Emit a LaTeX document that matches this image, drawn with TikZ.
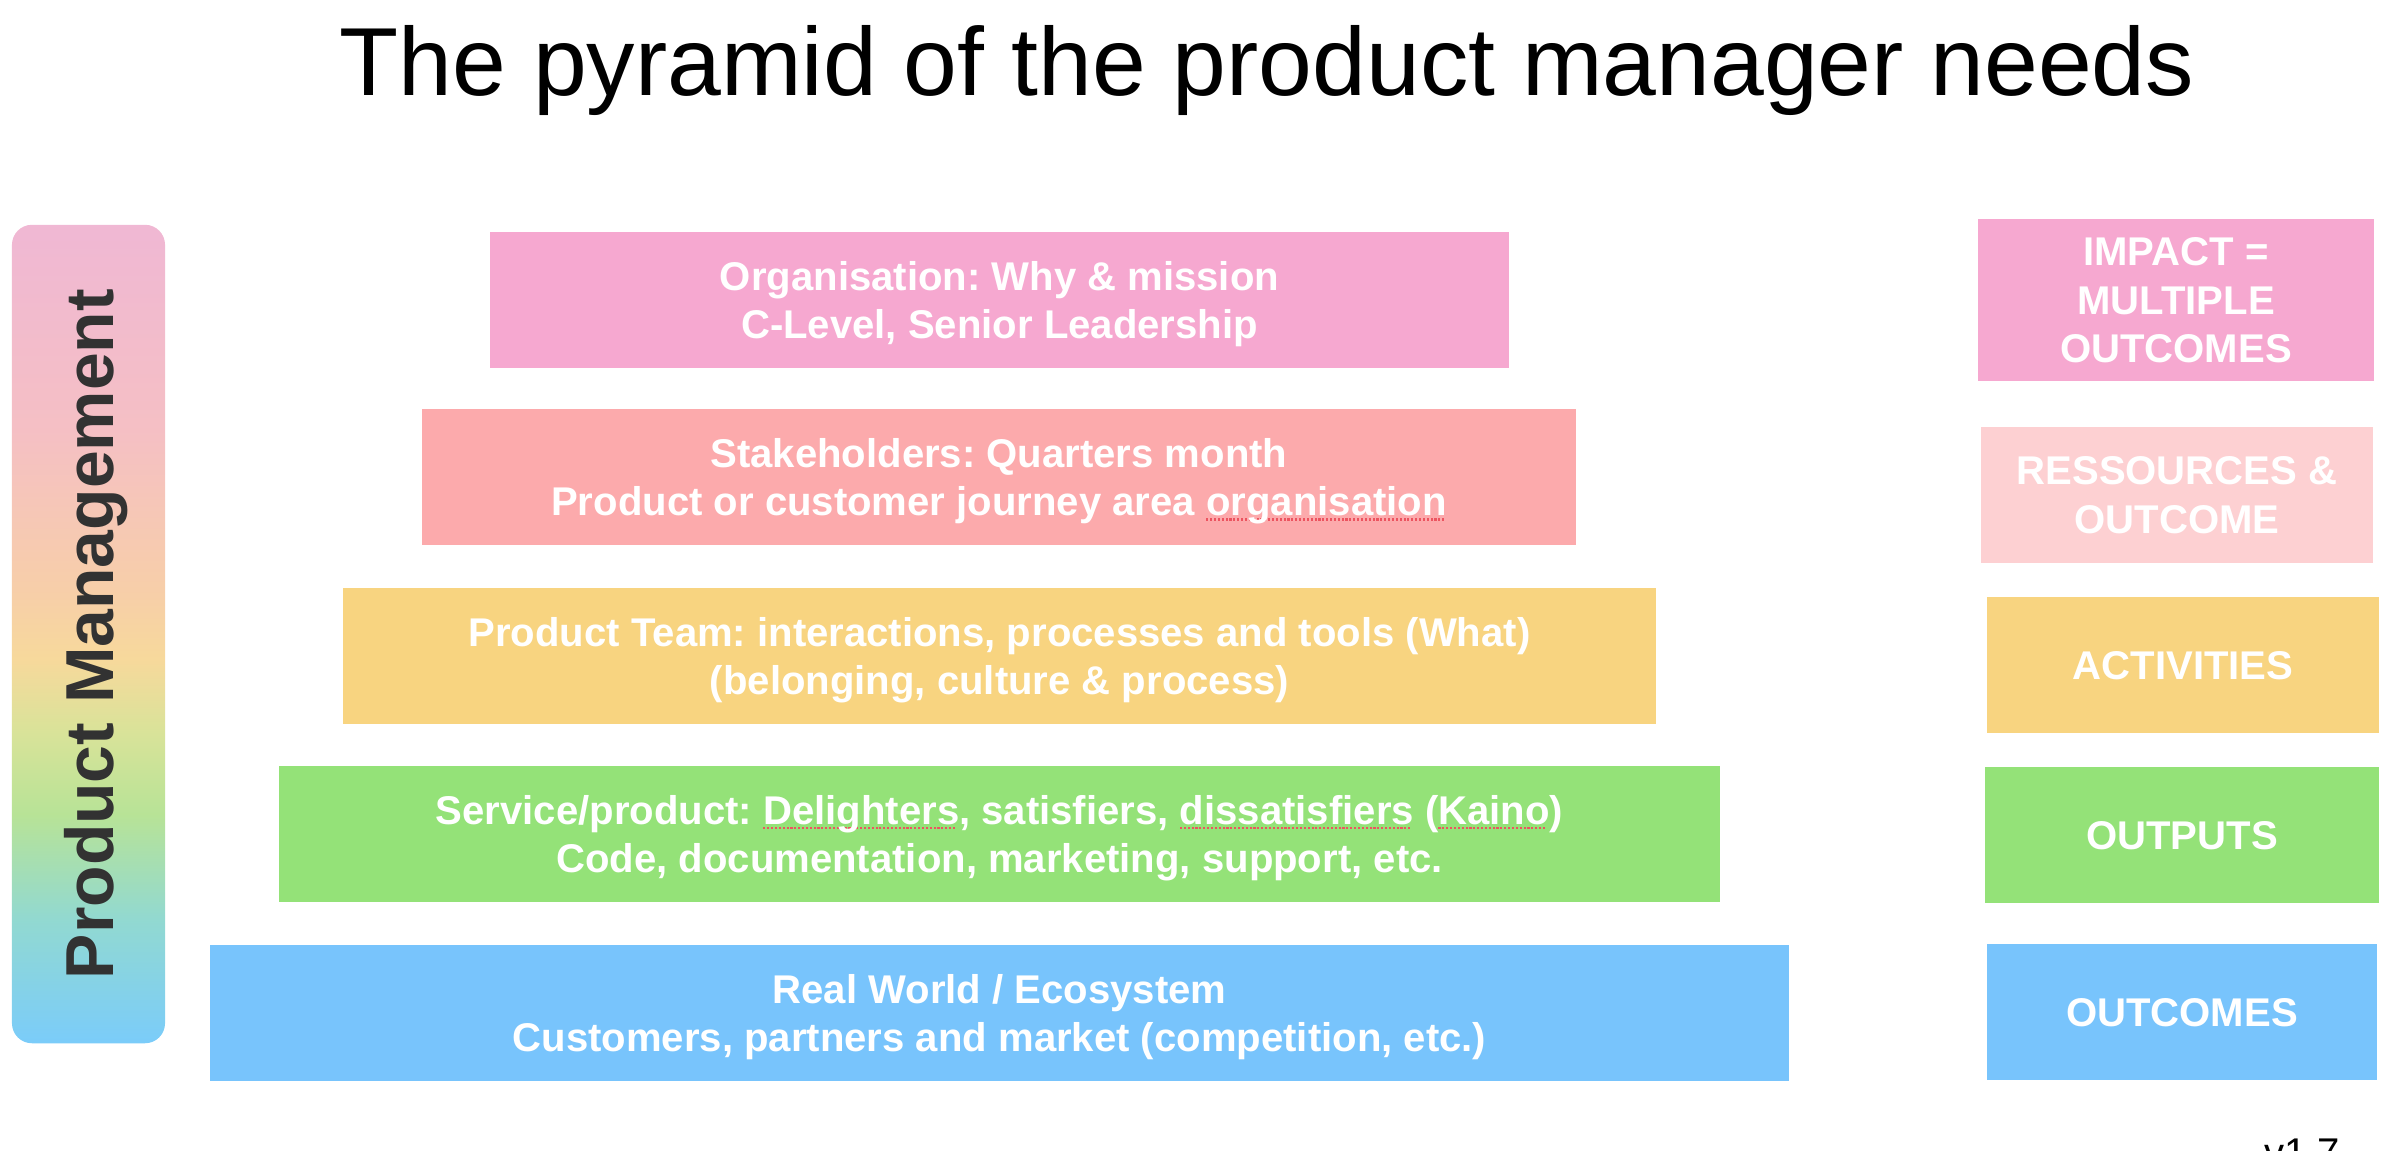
\documentclass[tikz,border=0pt]{standalone}
\usepackage{fontspec}
\setmainfont{Liberation Sans}
\frenchspacing

\definecolor{orgpink}{RGB}{246,168,208}
\definecolor{stakesalmon}{RGB}{252,170,172}
\definecolor{resspink}{RGB}{253,208,210}
\definecolor{teamyellow}{RGB}{248,212,128}
\definecolor{servicegreen}{RGB}{148,226,120}
\definecolor{worldblue}{RGB}{120,196,252}
\definecolor{pmtext}{RGB}{50,50,50}
\definecolor{spellred}{RGB}{236,84,96}

% colours of the side bar, bottom (25bp) to top (75bp)
\pgfdeclareverticalshading{pmbar}{100bp}{%
  rgb(0bp)=(0.48,0.80,0.98); rgb(25bp)=(0.48,0.80,0.98);
  rgb(32.5bp)=(0.57,0.85,0.82); rgb(39bp)=(0.72,0.89,0.59);
  rgb(44bp)=(0.85,0.89,0.60); rgb(48.5bp)=(0.97,0.85,0.61);
  rgb(52.5bp)=(0.97,0.81,0.66); rgb(62.5bp)=(0.96,0.75,0.77);
  rgb(75bp)=(0.94,0.72,0.83); rgb(100bp)=(0.94,0.72,0.83)}

\newsavebox\spellbox
\newcommand{\spellmark}[1]{\sbox\spellbox{#1}\rlap{\color{spellred}\raisebox{-1.3pt}{\hbox to \wd\spellbox{\leaders\hbox to 1.1pt{\vrule width .6pt height .6pt\hfil}\hfill}}}\usebox\spellbox}

\tikzset{
  layer/.style={fill=#1, text=white, font=\bfseries\fontsize{11.4}{13.9}\selectfont,
    align=center, inner sep=0pt, text depth=0pt, minimum height=1.36cm}
}

\begin{document}
\begin{tikzpicture}[x=0.01cm, y=-0.01cm]
\useasboundingbox (0,0) rectangle (2400,1150);
\node (Title) at (1267,95) [anchor=base, font=\fontsize{27.5}{33}\selectfont] {The pyramid of the product manager needs};

% side bar
\node (PMBar) at (88.5,634) [shade, shading=pmbar, rounded corners=0.2cm, inner sep=0pt, minimum width=1.53cm, minimum height=8.18cm] {};
\node (PMLabel) at (113,634) [rotate=90, anchor=base, text=pmtext, font=\bfseries\fontsize{19.3}{23}\selectfont] {Product Management};

% the pyramid
\node (Org) at (999.5,300) [layer=orgpink, minimum width=10.19cm] {Organisation: Why \& mission\\C-Level, Senior Leadership};
\node (Stake) at (999,477) [layer=stakesalmon, minimum width=11.54cm] {Stakeholders: Quarters month\\Product or customer journey area \spellmark{organisation}};
\node (Team) at (999.5,656) [layer=teamyellow, minimum width=13.13cm] {Product Team: interactions, processes and tools (What)\\(belonging, culture \& process)};
\node (Service) at (999.5,834) [layer=servicegreen, minimum width=14.41cm] {Service/product: \spellmark{Delighters}, satisfiers, \spellmark{dissatisfiers} (\spellmark{Kaino})\\Code, documentation, marketing, support, etc.};
\node (World) at (999.5,1013) [layer=worldblue, minimum width=15.79cm] {Real World / Ecosystem\\Customers, partners and market (competition, etc.)};

% right column
\node (Impact) at (2176,300) [layer=orgpink, minimum width=3.96cm, minimum height=1.62cm] {IMPACT =\\MULTIPLE\\OUTCOMES};
\node (Ress) at (2177,495) [layer=resspink, minimum width=3.91cm, minimum height=1.35cm] {RESSOURCES \&\\OUTCOME};
\node (Activities) at (2183,665) [layer=teamyellow, minimum width=3.92cm] {ACTIVITIES};
\node (Outputs) at (2182,835) [layer=servicegreen, minimum width=3.94cm] {OUTPUTS};
\node (Outcomes) at (2182,1012) [layer=worldblue, minimum width=3.90cm] {OUTCOMES};

\node (Version) at (2302,1166) [anchor=base, font=\fontsize{11.4}{13.9}\selectfont] {v1.7};
\end{tikzpicture}
\end{document}
